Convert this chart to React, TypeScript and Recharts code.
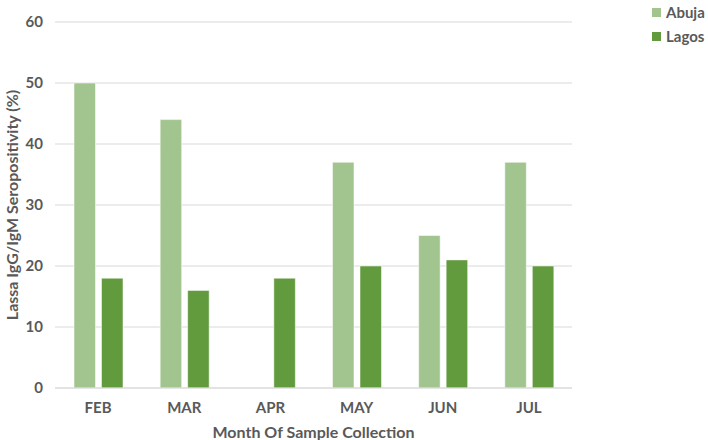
import React from "react";
import { BarChart, Bar, XAxis, YAxis, CartesianGrid, Legend } from "recharts";

const months = ["FEB", "MAR", "APR", "MAY", "JUN", "JUL"];
const abuja = [50, 44, 0, 37, 25, 37];
const lagos = [18, 16, 18, 20, 21, 20];
const yTicks = [0, 10, 20, 30, 40, 50, 60];

const data = months.map((m, i) => ({ month: m, Abuja: abuja[i], Lagos: lagos[i] }));

const FONT = "Lato, 'Open Sans', sans-serif";
const TEXT = "#595959";
const ABUJA_COLOR = "#A2C58F";
const LAGOS_COLOR = "#629A3E";

const renderLegend = (props: any) => {
  const { payload } = props;
  return (
    <div style={{ fontFamily: FONT, fontWeight: 700, fontSize: 15, color: TEXT }}>
      {payload.map((p: any) => (
        <div key={p.value} style={{ display: "flex", alignItems: "center", height: 22, marginBottom: 2 }}>
          <span style={{ display: "inline-block", width: 9, height: 9, background: p.color, marginRight: 5 }} />
          <span>{p.value}</span>
        </div>
      ))}
    </div>
  );
};

const YLabel = (props: any) => {
  const { viewBox } = props;
  const x = 11;
  const y = viewBox.y + viewBox.height / 2;
  return (
    <text
      x={x}
      y={y}
      transform={`rotate(-90, ${x}, ${y})`}
      textAnchor="middle"
      dominantBaseline="central"
      fill={TEXT}
      fontFamily={FONT}
      fontWeight={700}
      fontSize={16}
    >
      Lassa IgG/IgM Seropositivity (%)
    </text>
  );
};

const XLabel = (props: any) => {
  const { viewBox } = props;
  const x = viewBox.x + viewBox.width / 2;
  return (
    <text
      x={x}
      y={431}
      textAnchor="middle"
      dominantBaseline="central"
      fill={TEXT}
      fontFamily={FONT}
      fontWeight={700}
      fontSize={16}
    >
      Month Of Sample Collection
    </text>
  );
};

export default function App() {
  return (
    <div style={{ position: "absolute", left: 0, top: 0, background: "#fff" }}>
      <BarChart
        width={708}
        height={440}
        data={data}
        margin={{ top: 22, right: 76, bottom: 22, left: 0 }}
        barGap={6}
        barSize={21.5}
      >
        <CartesianGrid vertical={false} stroke="#D9D9D9" strokeWidth={1} />
        <XAxis
          dataKey="month"
          axisLine={{ stroke: "#D9D9D9" }}
          tickLine={false}
          height={30}
          tickMargin={8}
          tick={{ fill: TEXT, fontFamily: FONT, fontWeight: 700, fontSize: 15 }}
          label={<XLabel />}
        />
        <YAxis
          width={55}
          domain={[0, 60]}
          ticks={yTicks}
          axisLine={false}
          tickLine={false}
          tickMargin={6}
          tick={{ fill: TEXT, fontFamily: FONT, fontWeight: 700, fontSize: 15 }}
          label={<YLabel />}
        />
        <Legend
          layout="vertical"
          align="right"
          verticalAlign="top"
          content={renderLegend}
          wrapperStyle={{ left: 652, top: 1, width: 60 }}
        />
        <Bar dataKey="Abuja" fill={ABUJA_COLOR} stroke="#ffffff" strokeOpacity={0.5} isAnimationActive={false} />
        <Bar dataKey="Lagos" fill={LAGOS_COLOR} stroke="#ffffff" strokeOpacity={0.5} isAnimationActive={false} />
      </BarChart>
    </div>
  );
}
